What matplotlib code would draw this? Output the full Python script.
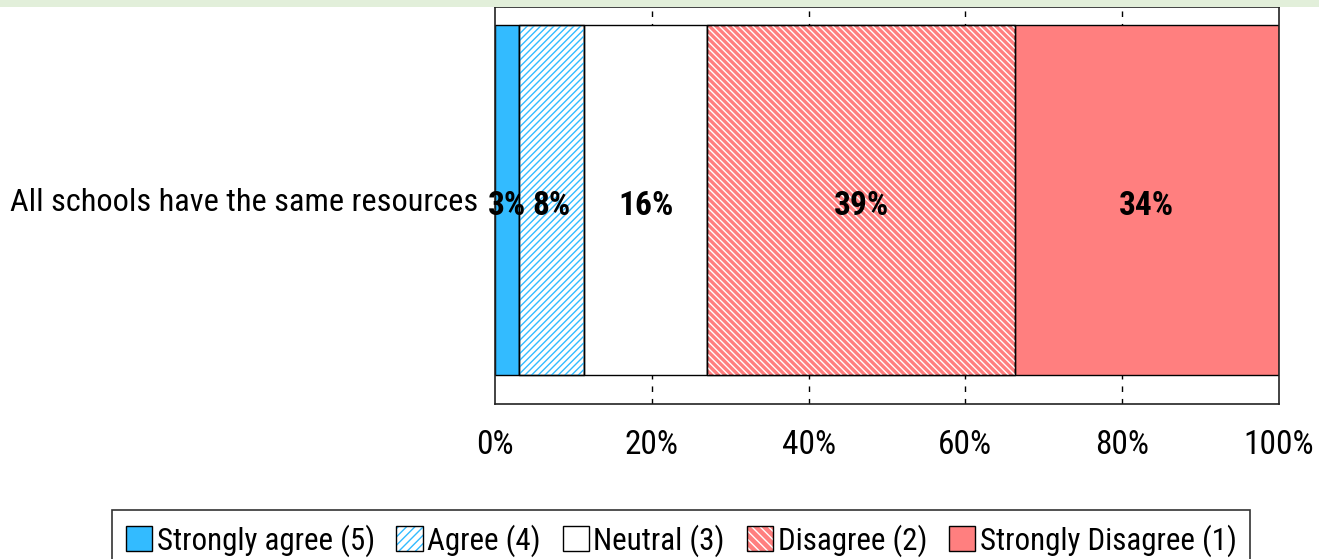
import matplotlib
matplotlib.use("Agg")
import matplotlib.pyplot as plt
from matplotlib import font_manager
from matplotlib.patches import Rectangle, Patch
from matplotlib.legend_handler import HandlerTuple

names = {f.name for f in font_manager.fontManager.ttflist}
FONT = "Liberation Sans"
for cand in ["Liberation Sans Narrow", "Arial Narrow", "Roboto Condensed", "Archivo Narrow",
             "PT Sans Narrow", "Liberation Sans"]:
    if cand in names:
        FONT = cand
        break
plt.rcParams['font.family'] = [FONT, 'DejaVu Sans']
plt.rcParams['hatch.linewidth'] = 1.0

category = "All schools have the same resources"
labels = ["Strongly agree (5)", "Agree (4)", "Neutral (3)", "Disagree (2)", "Strongly Disagree (1)"]
values = [3.1, 8.3, 15.7, 39.2, 33.7]
tick_vals = [0, 20, 40, 60, 80, 100]
tick_labels = ["0%", "20%", "40%", "60%", "80%", "100%"]

faces = ["#33BBFF", "white", "white", "#FF7F7F", "#FF7F7F"]
hatches = [None, "/////", None, "\\\\\\\\\\", None]
hatch_cols = [None, "#33BBFF", None, "white", None]

W, H = 1319, 559
fig = plt.figure(figsize=(W / 100, H / 100), dpi=100)
ax = fig.add_axes([495 / W, 155 / H, 784 / W, 397 / H])
ax.set_xlim(0, 100)
ax.set_ylim(0, 1)

y_c = 0.514
bh = 0.882
left = 0
handles = []
for v, lab, fc, hat, hc in zip(values, labels, faces, hatches, hatch_cols):
    ax.barh(y_c, v, left=left, height=bh, color=fc, edgecolor="black", linewidth=1.0, zorder=2)
    if hat:
        ax.barh(y_c, v, left=left, height=bh, color="none", edgecolor=hc, hatch=hat, linewidth=0, zorder=2.5)
        ax.barh(y_c, v, left=left, height=bh, color="none", edgecolor="black", linewidth=1.0, zorder=3)
        h = (Patch(facecolor=fc, edgecolor=hc, hatch="////" if hat.startswith("/") else "\\\\\\\\", linewidth=0),
             Patch(facecolor="none", edgecolor="black", linewidth=1.0))
    else:
        h = Patch(facecolor=fc, edgecolor="black", linewidth=1.0)
    handles.append(h)
    ax.text(left + v / 2, y_c - 0.015, f"{round(v)}%", ha="center", va="center",
            fontsize=24, fontweight="bold", color="black", zorder=4)
    left += v

for t in tick_vals[1:-1]:
    ax.axvline(t, color="black", linestyle=(0, (4, 5)), linewidth=1.0, zorder=1)

ax.set_xticks(tick_vals)
ax.set_xticklabels(tick_labels, fontsize=24)
ax.tick_params(axis="x", length=0, pad=18)
ax.set_yticks([y_c])
ax.set_yticklabels([category], fontsize=23.3)
ax.tick_params(axis="y", length=0, pad=12)
for s in ax.spines.values():
    s.set_linewidth(1.2)
    s.set_color("#222222")

leg = fig.legend(handles=handles, labels=labels, loc="upper center", bbox_to_anchor=(681 / W, 1 - 510 / H),
                 ncol=5, fontsize=22.3, frameon=True, fancybox=False, edgecolor="black",
                 handlelength=0.85, handleheight=0.85, handletextpad=0.15, columnspacing=0.7,
                 borderpad=0.45, borderaxespad=0,
                 handler_map={tuple: HandlerTuple(ndivide=1, pad=0)})
leg.get_frame().set_linewidth(1.2)

fig.patches.append(Rectangle((0, 1 - 7 / H), 1, 7 / H, transform=fig.transFigure,
                             facecolor="#E2EFDA", edgecolor="none", zorder=10))

fig.savefig("out.png", dpi=100)
